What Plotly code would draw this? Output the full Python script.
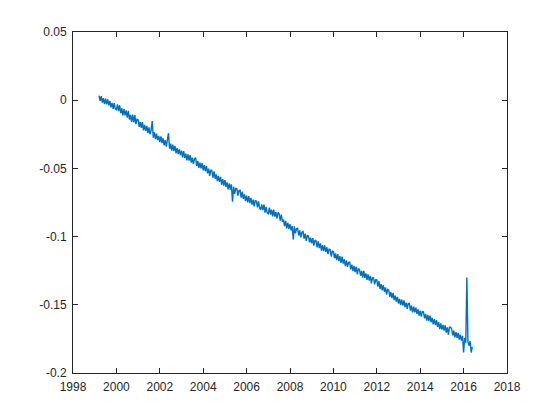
import numpy as np
import plotly.graph_objects as go

start_year = 1999.2
step_year = 0.05

vals_1999 = [0.0033, -0.0004, 0.0029, -0.0017, 0.0015, -0.0029, 0.0011, -0.0031,
             0.0007, -0.0038, -0.0006, -0.0052, -0.0019, -0.0063, -0.0022, -0.0064]
vals_2000 = [-0.0070, -0.0031, -0.0080, -0.0037, -0.0095, -0.0059, -0.0111, -0.0066, -0.0111, -0.0074,
             -0.0128, -0.0078, -0.0143, -0.0107, -0.0159, -0.0106, -0.0162, -0.0110, -0.0176, -0.0139]
vals_2001 = [-0.0143, -0.0195, -0.0159, -0.0203, -0.0161, -0.0221, -0.0181, -0.0225, -0.0189, -0.0241,
             -0.0199, -0.0251, -0.0219, -0.0153, -0.0275, -0.0235, -0.0285, -0.0245, -0.0293, -0.0261]
vals_2002 = [-0.0307, -0.0265, -0.0315, -0.0279, -0.0332, -0.0293, -0.0341, -0.0296, -0.0242, -0.0356,
             -0.0318, -0.0369, -0.0326, -0.0373, -0.0335, -0.0390, -0.0351, -0.0396, -0.0360, -0.0403]
vals_2003 = [-0.0370, -0.0419, -0.0374, -0.0425, -0.0392, -0.0441, -0.0398, -0.0443, -0.0402, -0.0457,
             -0.0422, -0.0469, -0.0430, -0.0421, -0.0482, -0.0445, -0.0496, -0.0457, -0.0500, -0.0461]
vals_2004 = [-0.0514, -0.0476, -0.0520, -0.0482, -0.0536, -0.0502, -0.0554, -0.0510, -0.0518, -0.0568,
             -0.0522, -0.0576, -0.0544, -0.0594, -0.0554, -0.0598, -0.0562, -0.0620, -0.0578, -0.0626]
vals_2005 = [-0.0586, -0.0636, -0.0603, -0.0653, -0.0610, -0.0656, -0.0617, -0.0744, -0.0634, -0.0686,
             -0.0647, -0.0649, -0.0700, -0.0662, -0.0661, -0.0715, -0.0670, -0.0724, -0.0691, -0.0739]
vals_2006 = [-0.0700, -0.0749, -0.0703, -0.0754, -0.0716, -0.0765, -0.0729, -0.0778, -0.0736, -0.0739,
             -0.0785, -0.0742, -0.0792, -0.0803, -0.0763, -0.0806, -0.0766, -0.0825, -0.0783, -0.0826]
vals_2007 = [-0.0832, -0.0788, -0.0838, -0.0802, -0.0852, -0.0802, -0.0854, -0.0820, -0.0866, -0.0822,
             -0.0832, -0.0883, -0.0838, -0.0890, -0.0875, -0.0923, -0.0884, -0.0939, -0.0900, -0.0943]
vals_2008 = [-0.0908, -0.0955, -0.0922, -0.1020, -0.0924, -0.0977, -0.0942, -0.0939, -0.0992, -0.0955,
             -0.1006, -0.0967, -0.0962, -0.1015, -0.0978, -0.1031, -0.0992, -0.0995, -0.1042, -0.1007]
vals_2009 = [-0.1050, -0.1011, -0.1066, -0.1025, -0.1032, -0.1079, -0.1034, -0.1085, -0.1050, -0.1103,
             -0.1062, -0.1107, -0.1064, -0.1113, -0.1078, -0.1129, -0.1092, -0.1095, -0.1146, -0.1107]
vals_2010 = [-0.1110, -0.1158, -0.1123, -0.1173, -0.1128, -0.1178, -0.1143, -0.1193, -0.1146, -0.1198,
             -0.1167, -0.1217, -0.1174, -0.1222, -0.1189, -0.1187, -0.1240, -0.1206, -0.1253, -0.1215]
vals_2011 = [-0.1260, -0.1221, -0.1276, -0.1237, -0.1240, -0.1287, -0.1252, -0.1301, -0.1252, -0.1303,
             -0.1270, -0.1317, -0.1276, -0.1323, -0.1288, -0.1343, -0.1302, -0.1303, -0.1350, -0.1317]
vals_2012 = [-0.1318, -0.1367, -0.1327, -0.1384, -0.1348, -0.1395, -0.1355, -0.1404, -0.1372, -0.1425,
             -0.1387, -0.1392, -0.1442, -0.1407, -0.1451, -0.1412, -0.1466, -0.1433, -0.1477, -0.1442]
vals_2013 = [-0.1492, -0.1457, -0.1503, -0.1462, -0.1506, -0.1467, -0.1517, -0.1484, -0.1530, -0.1491,
             -0.1491, -0.1542, -0.1506, -0.1555, -0.1513, -0.1556, -0.1520, -0.1567, -0.1533, -0.1580]
vals_2014 = [-0.1542, -0.1587, -0.1550, -0.1551, -0.1600, -0.1567, -0.1616, -0.1573, -0.1620, -0.1579,
             -0.1628, -0.1595, -0.1644, -0.1605, -0.1648, -0.1613, -0.1662, -0.1627, -0.1678, -0.1637]
vals_2015 = [-0.1682, -0.1647, -0.1689, -0.1650, -0.1704, -0.1665, -0.1719, -0.1664, -0.1664, -0.1677,
             -0.1725, -0.1690, -0.1738, -0.1701, -0.1743, -0.1706, -0.1756, -0.1719, -0.1763, -0.1728]
vals_2016 = [-0.1850, -0.1742, -0.1778, -0.1300, -0.1770, -0.1800, -0.1765, -0.1850, -0.1808]

x_ticks = [1998, 2000, 2002, 2004, 2006, 2008, 2010, 2012, 2014, 2016, 2018]
y_ticks = [-0.2, -0.15, -0.1, -0.05, 0, 0.05]
y_labels = ['-0.2', '-0.15', '-0.1', '-0.05', '0', '0.05']

y = (vals_1999 + vals_2000 + vals_2001 + vals_2002 + vals_2003 + vals_2004 + vals_2005
     + vals_2006 + vals_2007 + vals_2008 + vals_2009 + vals_2010 + vals_2011 + vals_2012
     + vals_2013 + vals_2014 + vals_2015 + vals_2016)
t = start_year + step_year * np.arange(len(y))

fig = go.Figure()
fig.add_trace(go.Scatter(x=t, y=y, mode='lines',
                         line=dict(color='#0072BD', width=1.4),
                         showlegend=False))

axis_style = dict(showline=True, linecolor='#262626', linewidth=1, mirror='ticks',
                  ticks='inside', ticklen=5, tickcolor='#262626', showgrid=False,
                  zeroline=False, tickfont=dict(family='Liberation Sans, Arial', size=12, color='#262626'))

fig.update_xaxes(range=[1998, 2018], tickvals=x_ticks, ticklabelstandoff=3, **axis_style)
fig.update_yaxes(range=[-0.2, 0.05], tickvals=y_ticks, ticktext=y_labels,
                 ticklabelstandoff=3, **axis_style)

# page body adds 8px on the top/left, so the figure is a bit smaller than the window
fig.update_layout(width=552, height=412,
                  margin=dict(l=65, r=53, t=24, b=47),
                  paper_bgcolor='white', plot_bgcolor='white')

fig.write_html("out.html")
